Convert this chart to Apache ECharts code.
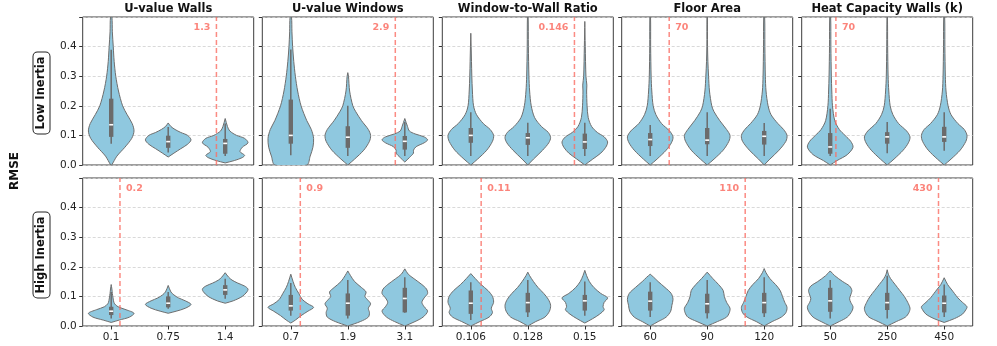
<!DOCTYPE html>
<html>
<head>
<meta charset="utf-8">
<style>
  html, body { margin: 0; padding: 0; background: #fff; }
  #chart { width: 997px; height: 346px; }
</style>
</head>
<body>
<div id="chart"></div>
<script src="https://cdn.jsdelivr.net/npm/echarts@6/dist/echarts.min.js"></script>
<script>
var params = ['U-value Walls', 'U-value Windows', 'Window-to-Wall Ratio', 'Floor Area', 'Heat Capacity Walls (k)'];
var categories = [[0.1, 0.75, 1.4], [0.7, 1.9, 3.1], [0.106, 0.128, 0.15], [60, 90, 120], [50, 250, 450]];
var rowNames = ['Low Inertia', 'High Inertia'];
var thresholdsLow = [1.3, 2.9, 0.146, 70, 70];
var thresholdsHigh = [0.2, 0.9, 0.11, 110, 430];

// box stats per violin: [whisker low, q1, median, q3, whisker high]
var boxesLow = [
  [[0.072, 0.095, 0.136, 0.224, 0.389], [0.042, 0.058, 0.079, 0.099, 0.128], [0.03, 0.038, 0.073, 0.088, 0.14]],
  [[0.033, 0.072, 0.1, 0.221, 0.39], [0.03, 0.058, 0.094, 0.131, 0.2], [0.03, 0.052, 0.08, 0.098, 0.145]],
  [[0.03, 0.075, 0.1, 0.125, 0.178], [0.03, 0.068, 0.092, 0.108, 0.143], [0.03, 0.054, 0.078, 0.106, 0.143]],
  [[0.03, 0.064, 0.086, 0.108, 0.135], [0.03, 0.07, 0.084, 0.125, 0.178], [0.03, 0.069, 0.097, 0.115, 0.142]],
  [[0.03, 0.038, 0.061, 0.108, 0.19], [0.04, 0.072, 0.095, 0.111, 0.145], [0.048, 0.078, 0.095, 0.129, 0.178]]
];
var boxesHigh = [
  [[0.025, 0.037, 0.05, 0.065, 0.115], [0.058, 0.063, 0.077, 0.1, 0.115], [0.092, 0.105, 0.122, 0.138, 0.16]],
  [[0.035, 0.052, 0.068, 0.105, 0.145], [0.025, 0.035, 0.077, 0.11, 0.155], [0.045, 0.046, 0.093, 0.129, 0.165]],
  [[0.02, 0.041, 0.077, 0.12, 0.148], [0.03, 0.046, 0.079, 0.112, 0.155], [0.035, 0.052, 0.085, 0.105, 0.15]],
  [[0.03, 0.052, 0.084, 0.116, 0.148], [0.025, 0.043, 0.075, 0.109, 0.155], [0.03, 0.043, 0.079, 0.112, 0.165]],
  [[0.025, 0.048, 0.085, 0.129, 0.155], [0.025, 0.054, 0.079, 0.112, 0.17], [0.03, 0.046, 0.077, 0.103, 0.14]]
];

// violin outlines: [rmse, relative half width]
var profilesLow = [
  [
    [[0, 0.02], [0.03, 0.25], [0.06, 0.6], [0.09, 0.9], [0.115, 1], [0.14, 0.92], [0.17, 0.7], [0.2, 0.5], [0.25, 0.32], [0.3, 0.2], [0.35, 0.13], [0.4, 0.09], [0.45, 0.05], [0.5, 0.03]],
    [[0.027, 0], [0.04, 0.25], [0.055, 0.55], [0.07, 0.85], [0.085, 1], [0.1, 0.85], [0.11, 0.55], [0.12, 0.3], [0.13, 0.12], [0.142, 0]],
    [[0.007, 0], [0.015, 0.4], [0.025, 0.75], [0.033, 0.85], [0.045, 0.65], [0.06, 0.75], [0.075, 1], [0.09, 0.85], [0.1, 0.5], [0.115, 0.2], [0.13, 0.1], [0.157, 0]]
  ],
  [
    [[0, 0.7], [0.03, 0.85], [0.06, 0.97], [0.09, 1], [0.12, 0.9], [0.15, 0.7], [0.2, 0.45], [0.25, 0.3], [0.3, 0.2], [0.35, 0.13], [0.4, 0.08], [0.45, 0.05], [0.5, 0.03]],
    [[0, 0], [0.02, 0.3], [0.05, 0.7], [0.08, 0.95], [0.1, 1], [0.12, 0.9], [0.15, 0.6], [0.18, 0.35], [0.2, 0.22], [0.25, 0.08], [0.3, 0.03], [0.312, 0]],
    [[0.01, 0], [0.025, 0.2], [0.04, 0.38], [0.05, 0.38], [0.062, 0.5], [0.075, 0.85], [0.085, 1], [0.095, 0.85], [0.105, 0.45], [0.115, 0.2], [0.13, 0.12], [0.157, 0]]
  ],
  [
    [[0, 0], [0.02, 0.3], [0.05, 0.7], [0.08, 0.95], [0.1, 1], [0.12, 0.85], [0.14, 0.55], [0.17, 0.25], [0.2, 0.12], [0.25, 0.07], [0.3, 0.045], [0.35, 0.03], [0.4, 0.015], [0.445, 0]],
    [[0, 0], [0.02, 0.25], [0.05, 0.65], [0.075, 0.92], [0.093, 1], [0.11, 0.9], [0.13, 0.6], [0.16, 0.3], [0.2, 0.15], [0.25, 0.08], [0.3, 0.05], [0.4, 0.025], [0.5, 0.015]],
    [[0, 0], [0.02, 0.35], [0.04, 0.7], [0.06, 0.92], [0.078, 1], [0.095, 0.85], [0.11, 0.55], [0.13, 0.3], [0.16, 0.15], [0.2, 0.1], [0.25, 0.08], [0.27, 0.09], [0.3, 0.05], [0.4, 0.02], [0.485, 0]]
  ],
  [
    [[0, 0], [0.02, 0.3], [0.05, 0.7], [0.075, 0.93], [0.095, 1], [0.115, 0.85], [0.14, 0.5], [0.17, 0.25], [0.2, 0.13], [0.25, 0.07], [0.3, 0.04], [0.4, 0.02], [0.5, 0.015]],
    [[0, 0], [0.02, 0.3], [0.05, 0.7], [0.08, 0.95], [0.1, 1], [0.12, 0.85], [0.15, 0.55], [0.18, 0.3], [0.2, 0.2], [0.25, 0.1], [0.3, 0.06], [0.35, 0.03], [0.4, 0.015], [0.5, 0.01]],
    [[0, 0], [0.02, 0.25], [0.05, 0.65], [0.08, 0.95], [0.1, 1], [0.12, 0.85], [0.14, 0.6], [0.17, 0.3], [0.2, 0.17], [0.25, 0.08], [0.3, 0.05], [0.4, 0.03], [0.5, 0.02]]
  ],
  [
    [[0, 0], [0.015, 0.3], [0.035, 0.75], [0.06, 1], [0.08, 0.9], [0.1, 0.65], [0.12, 0.4], [0.15, 0.2], [0.2, 0.1], [0.25, 0.07], [0.3, 0.05], [0.4, 0.03], [0.5, 0.02]],
    [[0, 0], [0.02, 0.3], [0.05, 0.7], [0.075, 0.93], [0.095, 1], [0.115, 0.85], [0.14, 0.5], [0.17, 0.25], [0.2, 0.13], [0.25, 0.07], [0.3, 0.04], [0.4, 0.02], [0.5, 0.01]],
    [[0, 0], [0.02, 0.3], [0.05, 0.7], [0.08, 0.95], [0.1, 1], [0.12, 0.88], [0.14, 0.6], [0.17, 0.3], [0.2, 0.17], [0.25, 0.08], [0.3, 0.05], [0.4, 0.03], [0.5, 0.02]]
  ]
];
var profilesHigh = [
  [
    [[0.012, 0], [0.02, 0.35], [0.03, 0.8], [0.043, 1], [0.055, 0.65], [0.065, 0.3], [0.075, 0.15], [0.085, 0.1], [0.095, 0.08], [0.11, 0.05], [0.125, 0.03], [0.14, 0]],
    [[0.043, 0], [0.05, 0.35], [0.06, 0.75], [0.073, 1], [0.085, 0.75], [0.095, 0.45], [0.105, 0.25], [0.115, 0.12], [0.137, 0]],
    [[0.077, 0], [0.085, 0.35], [0.1, 0.75], [0.115, 0.95], [0.125, 1], [0.135, 0.85], [0.145, 0.55], [0.155, 0.3], [0.165, 0.15], [0.18, 0]]
  ],
  [
    [[0.01, 0], [0.02, 0.2], [0.035, 0.45], [0.05, 0.75], [0.063, 1], [0.075, 0.75], [0.09, 0.5], [0.11, 0.35], [0.13, 0.2], [0.15, 0.1], [0.175, 0]],
    [[0, 0], [0.015, 0.55], [0.03, 0.9], [0.045, 0.95], [0.06, 0.9], [0.075, 1], [0.09, 0.85], [0.1, 0.75], [0.115, 0.8], [0.13, 0.6], [0.15, 0.3], [0.17, 0.12], [0.186, 0]],
    [[0, 0], [0.015, 0.45], [0.03, 0.8], [0.05, 1], [0.065, 0.85], [0.08, 0.75], [0.095, 0.85], [0.11, 1], [0.125, 0.95], [0.14, 0.75], [0.16, 0.4], [0.175, 0.15], [0.193, 0]]
  ],
  [
    [[0, 0], [0.015, 0.4], [0.03, 0.8], [0.045, 0.95], [0.06, 0.9], [0.08, 1], [0.1, 0.95], [0.12, 0.75], [0.14, 0.45], [0.16, 0.2], [0.177, 0]],
    [[0, 0], [0.015, 0.35], [0.03, 0.75], [0.05, 0.95], [0.07, 1], [0.09, 0.9], [0.11, 0.7], [0.13, 0.45], [0.15, 0.25], [0.17, 0.08], [0.182, 0]],
    [[0.01, 0], [0.025, 0.35], [0.04, 0.65], [0.055, 0.85], [0.065, 0.8], [0.08, 0.85], [0.095, 1], [0.11, 0.7], [0.13, 0.4], [0.15, 0.2], [0.17, 0.08], [0.188, 0]]
  ],
  [
    [[0, 0], [0.015, 0.35], [0.03, 0.7], [0.05, 0.9], [0.07, 0.95], [0.09, 1], [0.11, 0.92], [0.13, 0.65], [0.15, 0.35], [0.165, 0.15], [0.175, 0]],
    [[0, 0], [0.015, 0.45], [0.03, 0.85], [0.045, 0.97], [0.06, 1], [0.08, 0.85], [0.1, 0.75], [0.12, 0.7], [0.14, 0.5], [0.16, 0.25], [0.182, 0]],
    [[0, 0], [0.015, 0.35], [0.03, 0.75], [0.045, 0.95], [0.063, 1], [0.08, 0.9], [0.1, 0.8], [0.12, 0.7], [0.14, 0.5], [0.16, 0.25], [0.18, 0.08], [0.194, 0]]
  ],
  [
    [[0, 0], [0.015, 0.4], [0.03, 0.75], [0.05, 0.95], [0.065, 1], [0.08, 0.9], [0.092, 0.85], [0.105, 0.9], [0.12, 0.95], [0.135, 0.85], [0.15, 0.55], [0.17, 0.2], [0.186, 0]],
    [[0, 0], [0.015, 0.4], [0.03, 0.8], [0.045, 0.95], [0.06, 1], [0.08, 0.9], [0.1, 0.75], [0.12, 0.55], [0.14, 0.35], [0.16, 0.15], [0.175, 0.05], [0.19, 0]],
    [[0.012, 0], [0.025, 0.45], [0.04, 0.8], [0.055, 0.95], [0.065, 1], [0.08, 0.8], [0.095, 0.6], [0.11, 0.45], [0.125, 0.3], [0.14, 0.15], [0.163, 0]]
  ]
];

var panelLefts = [82.7, 262.3, 442.3, 621.7, 801.7];
var panelTops = [17, 178];
var panelW = 171, panelH = 148;
var font = 'DejaVu Sans';
var red = 'rgba(250,110,100,0.8)';

function violinRender(profiles, boxes) {
  return function (p, api) {
    var i = p.dataIndex;
    var prof = profiles[i], b = boxes[i];
    var cx = api.coord([i, 0])[0];
    var hw = api.size([1, 0])[0] * 0.4;
    var right = [], left = [];
    prof.forEach(function (d) {
      var y = api.coord([i, d[0]])[1];
      right.push([cx + d[1] * hw, y]);
      left.unshift([cx - d[1] * hw, y]);
    });
    var yw0 = api.coord([i, b[0]])[1], yq1 = api.coord([i, b[1]])[1];
    var ymd = api.coord([i, b[2]])[1], yq3 = api.coord([i, b[3]])[1];
    var yw1 = api.coord([i, b[4]])[1];
    return {
      type: 'group',
      children: [
        { type: 'polygon', shape: { points: right.concat(left), smooth: 0.3 },
          style: { fill: '#8fc8df', stroke: '#6e6e6e', lineWidth: 1 } },
        { type: 'line', shape: { x1: cx, y1: yw0, x2: cx, y2: yw1 },
          style: { stroke: '#6b6b6b', lineWidth: 1.5 } },
        { type: 'rect', shape: { x: cx - 2.2, y: yq3, width: 4.4, height: yq1 - yq3 },
          style: { fill: '#6b6b6b' } },
        { type: 'rect', shape: { x: cx - 2, y: ymd - 0.8, width: 4, height: 1.6 },
          style: { fill: '#ffffff' } }
      ]
    };
  };
}

function thresholdRender(cats, thr) {
  return function (p, api) {
    var k = 0;
    while (k < cats.length - 2 && thr > cats[k + 1]) k++;
    var pos = k + (thr - cats[k]) / (cats[k + 1] - cats[k]);
    var band = api.size([1, 0])[0];
    var x = api.coord([0, 0])[0] + pos * band;
    var yb = api.coord([0, 0])[1], yt = api.coord([0, 0.5])[1];
    var onLeft = pos > 1.2;
    return {
      type: 'group',
      children: [
        { type: 'line', shape: { x1: x, y1: yb, x2: x, y2: yt },
          style: { stroke: red, lineWidth: 1.5, lineDash: [5, 3] } },
        { type: 'text', x: onLeft ? x - 6 : x + 6, y: yt + 11,
          style: { text: String(thr), fill: 'rgba(250,110,100,0.85)', font: 'bold 9.5px ' + font,
                   align: onLeft ? 'right' : 'left', verticalAlign: 'middle' } }
      ]
    };
  };
}

var grids = [], xAxes = [], yAxes = [], series = [], graphics = [];
[0, 1].forEach(function (r) {
  var profs = r === 0 ? profilesLow : profilesHigh;
  var boxes = r === 0 ? boxesLow : boxesHigh;
  var thrs = r === 0 ? thresholdsLow : thresholdsHigh;
  params.forEach(function (name, c) {
    var g = grids.length;
    grids.push({ left: panelLefts[c], top: panelTops[r], width: panelW, height: panelH,
                 show: true, borderColor: '#3c3c3c', borderWidth: 1, backgroundColor: 'transparent' });
    xAxes.push({ type: 'category', gridIndex: g, data: categories[c].map(String),
                 axisLine: { show: false },
                 axisTick: { show: r === 1, alignWithLabel: true, length: 3.5, lineStyle: { color: '#333' } },
                 axisLabel: { show: r === 1, fontFamily: font, fontSize: 10.5, color: '#222', margin: 6 },
                 splitLine: { show: false } });
    yAxes.push({ type: 'value', gridIndex: g, min: 0, max: 0.5, interval: 0.1,
                 axisLine: { show: false },
                 axisTick: { show: true, length: 3.5, lineStyle: { color: '#333' } },
                 axisLabel: { show: c === 0, fontFamily: font, fontSize: 10.5, color: '#222', margin: 6,
                              formatter: function (v) { return v > 0.45 ? '' : v.toFixed(1); } },
                 splitLine: { show: true, lineStyle: { color: '#cfcfcf', type: [3, 2], width: 0.8 } } });
    series.push({ type: 'custom', xAxisIndex: g, yAxisIndex: g, clip: true,
                  data: [[0], [1], [2]], renderItem: violinRender(profs[c], boxes[c]), z: 2 });
    series.push({ type: 'custom', xAxisIndex: g, yAxisIndex: g,
                  data: [[0]], renderItem: thresholdRender(categories[c], thrs[c]), z: 3 });
    if (r === 0) {
      graphics.push({ type: 'text', x: panelLefts[c] + panelW / 2, y: 9,
                      style: { text: name, font: 'bold 11.5px ' + font, fill: '#111',
                               align: 'center', verticalAlign: 'middle' } });
    }
  });
  graphics.push({ type: 'text', x: 41.5, y: panelTops[r] + (r === 0 ? 76 : 77), rotation: Math.PI / 2,
                  style: { text: rowNames[r], font: 'bold 11.5px ' + font, fill: '#111',
                           align: 'center', verticalAlign: 'middle',
                           backgroundColor: '#fff', borderColor: '#222', borderWidth: 1, borderRadius: 4,
                           padding: [2, 4, 2, 4] } });
});
graphics.push({ type: 'text', x: 15, y: 171, rotation: Math.PI / 2,
                style: { text: 'RMSE', font: 'bold 12px ' + font, fill: '#111',
                         align: 'center', verticalAlign: 'middle' } });

var chart = echarts.init(document.getElementById('chart'), null, { renderer: 'canvas' });
chart.setOption({
  animation: false,
  backgroundColor: '#fff',
  grid: grids,
  xAxis: xAxes,
  yAxis: yAxes,
  series: series,
  graphic: graphics
});
</script>
</body>
</html>
